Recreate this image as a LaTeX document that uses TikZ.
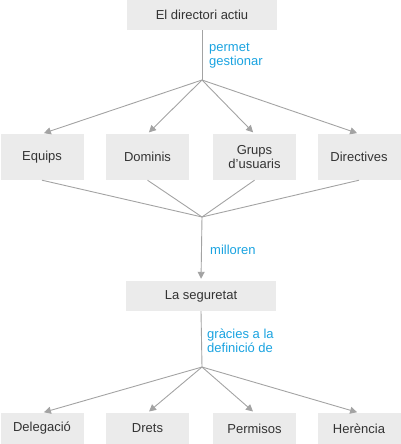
\documentclass[tikz,border=0pt]{standalone}
\usepackage{fontspec}
\setmainfont{Liberation Sans}
\usetikzlibrary{arrows.meta}
\definecolor{boxgray}{HTML}{EBEBEB}
\definecolor{linegray}{HTML}{A3A3A3}
\definecolor{textgray}{HTML}{333333}
\definecolor{labelblue}{HTML}{1AA3E0}
\tikzset{
  concept/.style={fill=boxgray, text=textgray, inner sep=0pt, align=center,
    font=\fontsize{13}{14}\selectfont},
  wide/.style={concept, minimum width=150pt, minimum height=30pt},
  small/.style={concept, minimum width=83pt, minimum height=46pt},
  leaf/.style={concept, minimum width=83pt, minimum height=31pt},
  verb/.style={text=labelblue, anchor=west, align=left, inner sep=0pt,
    font=\fontsize{13}{14}\selectfont},
  link/.style={draw=linegray, line width=0.9pt},
  arr/.style={link, -{Triangle[length=7pt,width=7pt]}, shorten >=2pt}
}
\begin{document}
\begin{tikzpicture}[x=1pt,y=-1pt]
\useasboundingbox (0,0) rectangle (401,444);
% nivell superior
\node[wide] (dir) at (202,15) {El directori actiu};
\coordinate (b1) at (202,80);
\coordinate (b2) at (202,217);
\coordinate (b3) at (202,367);
% elements gestionats
\node[small] (equips) at (42,157) {Equips};
\node[small] (dominis) at (147.5,157) {Dominis};
\node[small] (grups) at (254.5,157) {Grups\\d’usuaris};
\node[small] (direct) at (359,157) {Directives};
\node[wide] (seg) at (201,296) {La seguretat};
% mecanismes
\node[leaf] (deleg) at (42,428.5) {Delegació};
\node[leaf] (drets) at (147.5,428.5) {Drets};
\node[leaf] (perm) at (254.5,428.5) {Permisos};
\node[leaf] (heren) at (359,428.5) {Herència};

\draw[link] (dir.south) -- (b1);
\node[verb] (l1) at (209,56) {permet\\gestionar};
\foreach \n in {equips,dominis,grups,direct}{
  \draw[arr] (b1) -- (\n.north);
  \draw[link] (\n.south) -- (b2);
}
\draw[arr] (b2) -- (seg.north);
\node[verb] (l2) at (210,250) {milloren};
\draw[link] (seg.south) -- (b3);
\node[verb] (l3) at (207,341) {gràcies a la\\definició de};
\foreach \n in {deleg,drets,perm,heren}
  \draw[arr] (b3) -- (\n.north);
\end{tikzpicture}
\end{document}
